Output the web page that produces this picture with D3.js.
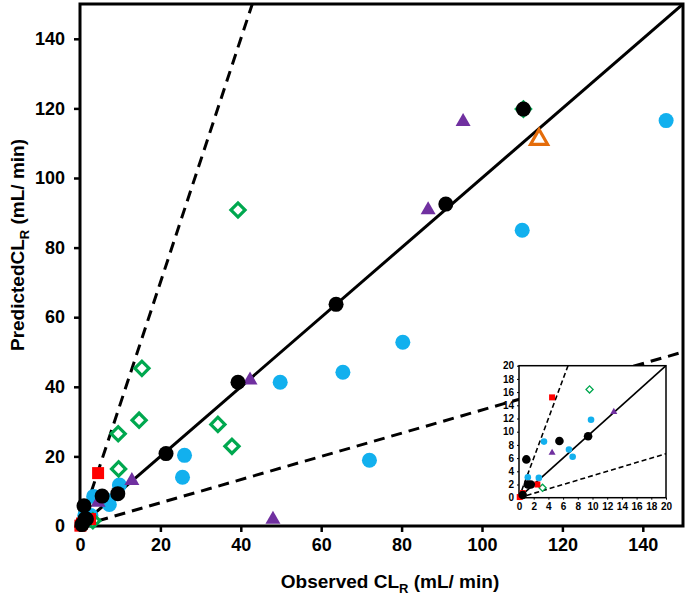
<!DOCTYPE html>
<html><head><meta charset="utf-8">
<script src="https://cdn.jsdelivr.net/npm/d3@7"></script>
<style>
body{margin:0;background:#fff}
svg{display:block}
text{font-family:Arial,"Liberation Sans",sans-serif;font-weight:bold;fill:#000}
</style>
</head><body>
<svg id="chart" width="689" height="599"></svg>
<script>
// ---- data ----
const xTicks = [0,20,40,60,80,100,120,140];
const yTicks = [0,20,40,60,80,100,120,140];
const insetTicks = [0,2,4,6,8,10,12,14,16,18,20];
const mainRefSlopes  = [1, 3.5, 1/3];     // identity and fold-error lines (main)
const insetRefSlopes = [1, 3, 1/3];       // identity and fold-error lines (inset)
// [observed, predicted]
const blackPts  = [[110.3,119.8],[91,92.5],[63.7,63.7],[39.3,41.3],[21.4,20.8],[9.4,9.3],[5.5,8.6],[1,5.8],[1.2,2],[1.6,2],[0.5,0.4]];
const cyanPts   = [[145.8,116.5],[110,85],[80.3,52.8],[65.4,44.2],[49.8,41.3],[72,18.9],[26,20.3],[25.5,14],[9.8,11.8],[6.8,7.3],[7.3,6.2],[3.4,8.5],[2.7,3.0],[1.2,3.1]];
const greenPts  = [[110.3,119.8],[39.3,90.8],[15.4,45.3],[14.7,30.4],[9.5,26.5],[9.6,16.4],[34.3,29.2],[37.8,22.9],[3.2,1.5]];
const purplePts = [[95.3,116.2],[86.6,90.8],[42.3,41.9],[12.9,13],[48,1.9],[4.5,6.8]];
const redPts    = [[4.5,15.2],[2.5,2],[0.5,0.7],[0.1,0.1]];
const orangePts = [[114.2,111.1]];

const svg = d3.select("#chart");

const series = [
  {pts: cyanPts,   type:"circle",   color:"#12B0EE", open:false},
  {pts: greenPts,  type:"diamond",  color:"#00A84F", open:true},
  {pts: purplePts, type:"triangle", color:"#7030A0", open:false},
  {pts: redPts,    type:"square",   color:"#FF0000", open:false},
  {pts: orangePts, type:"triangle", color:"#E46C0A", open:true},
  {pts: blackPts,  type:"circle",   color:"#000000", open:false}
];

function drawMarkers(g, x, y, s, size, sw) {
  g.selectAll(null).data(s.pts).join("path")
    .attr("transform", d => {
      const t = `translate(${x(d[0])},${y(d[1])})`;
      return s.type === "diamond" ? t + " rotate(45)" : t;
    })
    .attr("d", () => {
      let sym = d3.symbolCircle, area;
      if (s.type === "circle") { area = Math.PI * size.r * size.r; }
      else if (s.type === "square") { sym = d3.symbolSquare; area = size.sq * size.sq; }
      else if (s.type === "diamond") { sym = d3.symbolSquare; area = size.dm * size.dm; }
      else { sym = d3.symbolTriangle; const side = s.open ? size.otri : size.tri; area = Math.sqrt(3)/4*side*side; }
      return d3.symbol(sym, area)();
    })
    .attr("fill", s.open ? "#fff" : s.color)
    .attr("stroke", s.open ? s.color : "none")
    .attr("stroke-width", s.open ? sw : 0);
}

// ---- main plot ----
const x = d3.scaleLinear().domain([0,150]).range([80,683]);
const y = d3.scaleLinear().domain([0,150]).range([526,4]);

const main = svg.append("g");
main.append("clipPath").attr("id","clipMain").append("rect")
  .attr("x",x(0)).attr("y",y(150)).attr("width",x(150)-x(0)).attr("height",y(0)-y(150));

const lines = main.append("g").attr("clip-path","url(#clipMain)");
mainRefSlopes.forEach(s => {
  lines.append("line")
    .attr("x1",x(0)).attr("y1",y(0))
    .attr("x2",x(Math.min(150,150/s))).attr("y2",y(Math.min(150,150*s)))
    .attr("stroke","#000").attr("stroke-width",3)
    .attr("stroke-dasharray", s === 1 ? null : "11,7");
});

const xAxis = main.append("g").attr("transform",`translate(0,${y(0)})`)
  .call(d3.axisBottom(x).tickValues(xTicks).tickSize(6).tickPadding(6));
const yAxis = main.append("g").attr("transform",`translate(${x(0)},0)`)
  .call(d3.axisLeft(y).tickValues(yTicks).tickSize(6).tickPadding(9));
[xAxis,yAxis].forEach(a => {
  a.select(".domain").remove();
  a.selectAll("line").attr("stroke","#000").attr("stroke-width",2.5);
  a.selectAll("text").attr("font-size",18).attr("font-family","Arial, 'Liberation Sans', sans-serif").attr("font-weight","bold");
});

main.append("rect").attr("x",x(0)).attr("y",y(150))
  .attr("width",x(150)-x(0)).attr("height",y(0)-y(150))
  .attr("fill","none").attr("stroke","#000").attr("stroke-width",3);

const mk = main.append("g");
series.forEach(s => drawMarkers(mk.append("g"), x, y, s, {r:7.5, sq:12, dm:10, tri:15, otri:17}, 3.2));

// axis titles
const xt = svg.append("text").attr("x",390).attr("y",588).attr("text-anchor","middle").attr("font-size",19);
xt.append("tspan").text("Observed CL");
xt.append("tspan").text("R").attr("font-size",13).attr("dy",5);
xt.append("tspan").text(" (mL/ min)").attr("dy",-5);

const yt = svg.append("text").attr("transform","translate(24,245) rotate(-90)").attr("text-anchor","middle").attr("font-size",19);
yt.append("tspan").text("PredictedCL");
yt.append("tspan").text("R").attr("font-size",13).attr("dy",5);
yt.append("tspan").text(" (mL/ min)").attr("dy",-5);

// ---- inset ----
const xi = d3.scaleLinear().domain([0,20]).range([519,666]);
const yi = d3.scaleLinear().domain([0,20]).range([497.7,365.7]);
const inset = svg.append("g");
inset.append("rect").attr("x",xi(0)).attr("y",yi(20)).attr("width",xi(20)-xi(0)).attr("height",yi(0)-yi(20)).attr("fill","#fff");
inset.append("clipPath").attr("id","clipInset").append("rect")
  .attr("x",xi(0)).attr("y",yi(20)).attr("width",xi(20)-xi(0)).attr("height",yi(0)-yi(20));
const il = inset.append("g").attr("clip-path","url(#clipInset)");
insetRefSlopes.forEach(s => {
  il.append("line")
    .attr("x1",xi(0)).attr("y1",yi(0))
    .attr("x2",xi(Math.min(20,20/s))).attr("y2",yi(Math.min(20,20*s)))
    .attr("stroke","#000").attr("stroke-width",1.6)
    .attr("stroke-dasharray", s === 1 ? null : "5,3");
});
const xia = inset.append("g").attr("transform",`translate(0,${yi(0)})`)
  .call(d3.axisBottom(xi).tickValues(insetTicks).tickSize(2).tickPadding(3));
const yia = inset.append("g").attr("transform",`translate(${xi(0)},0)`)
  .call(d3.axisLeft(yi).tickValues(insetTicks).tickSize(2).tickPadding(3));
[xia,yia].forEach(a => {
  a.select(".domain").remove();
  a.selectAll("line").attr("stroke","#000").attr("stroke-width",1);
  a.selectAll("text").attr("font-size",10).attr("font-family","Arial, 'Liberation Sans', sans-serif").attr("font-weight","bold").attr("fill","#222");
});
inset.append("rect").attr("x",xi(0)).attr("y",yi(20)).attr("width",xi(20)-xi(0)).attr("height",yi(0)-yi(20))
  .attr("fill","none").attr("stroke","#000").attr("stroke-width",1.5);
const imk = inset.append("g");
series.forEach(s => {
  const sub = {...s, pts: s.pts.filter(d => d[0] <= 20 && d[1] <= 20)};
  drawMarkers(imk.append("g"), xi, yi, sub, {r: s.color === "#000000" ? 4.3 : 3.3, sq:6, dm:5, tri:7, otri:7}, 1.3);
});
</script>
</body></html>
